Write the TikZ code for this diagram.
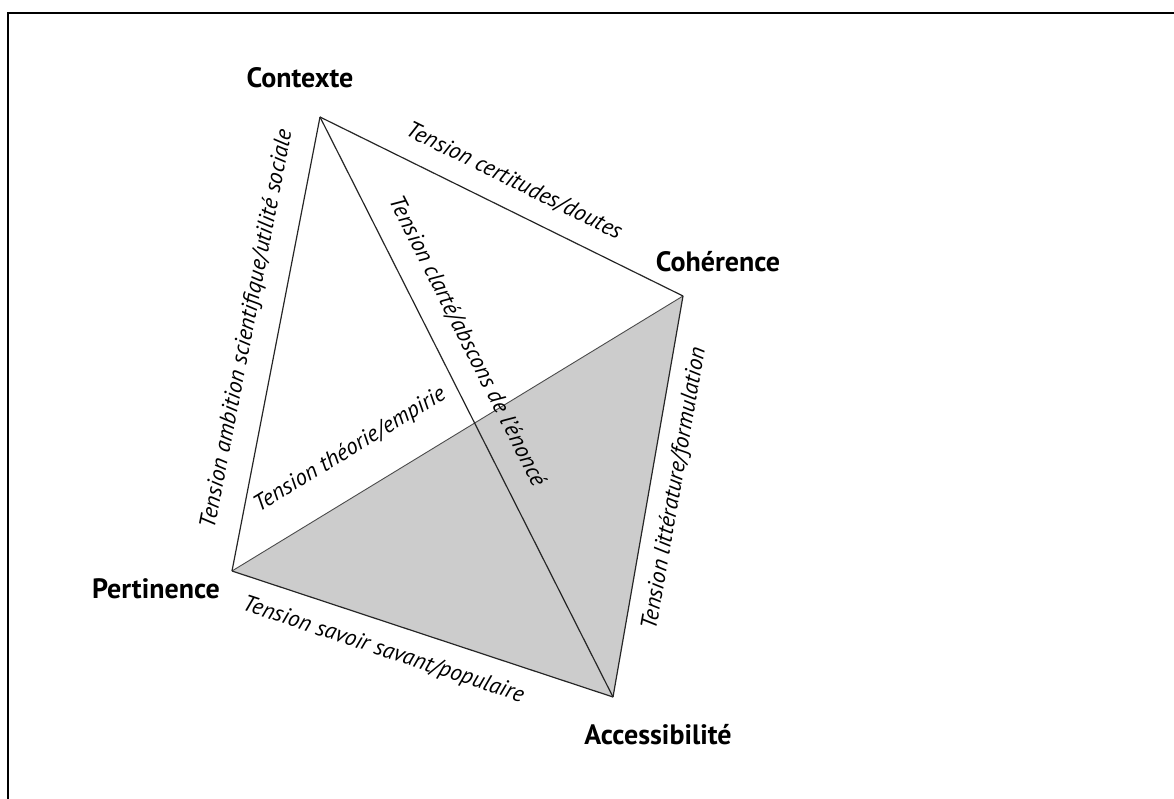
\documentclass[tikz,border=0pt]{standalone}
\usepackage{fontspec}
\setmainfont{PT Sans}
\tikzset{
  vertex/.style={font=\bfseries\fontsize{28}{32}\selectfont, inner sep=0pt},
  edge/.style={line width=1.2pt, black!85},
  tlabel/.style={font=\itshape\fontsize{23}{27}\selectfont, text=black, sloped, inner sep=0pt},
}
\begin{document}
\begin{tikzpicture}[x=1pt,y=1pt]
\clip (0,0) rectangle (1174,798);
\useasboundingbox (0,0) rectangle (1174,798);
\draw[line width=2pt] (8,-20) rectangle (1200,785);
\coordinate (C) at (320,681);
\coordinate (H) at (683,502);
\coordinate (P) at (232,227);
\coordinate (A) at (613,101);
\fill[gray!40] (P) -- (H) -- (A) -- cycle;
\draw[edge, gray!60!black, line width=0.9pt] (P) -- (H)
  node[tlabel, pos=0.31, above=42pt, anchor=center] (lTE) {Tension théorie/empirie};
\draw[edge] (P) -- (C)
  node[tlabel, pos=0.52, above=31pt, anchor=center] (lAS) {Tension ambition scientifique/utilité sociale};
\draw[edge] (C) -- (H)
  node[tlabel, pos=0.5, above=28pt, anchor=center] (lCD) {Tension certitudes/doutes};
\draw[edge] (C) -- (A)
  node[tlabel, pos=0.41, above=30pt, anchor=center] (lCA) {Tension clarté/abscons de l’énoncé};
\draw[edge] (A) -- (H)
  node[tlabel, pos=0.53, below=25pt, anchor=center] (lLF) {Tension littérature/formulation};
\draw[edge] (P) -- (A)
  node[tlabel, pos=0.42, below=28pt, anchor=center] (lSP) {Tension savoir savant/populaire};
\node[vertex] (nC) at (300,720) {Contexte};
\node[vertex] (nH) at (718,536) {Cohérence};
\node[vertex] (nP) at (156,209) {Pertinence};
\node[vertex] (nA) at (658,63) {Accessibilité};
\end{tikzpicture}
\end{document}
